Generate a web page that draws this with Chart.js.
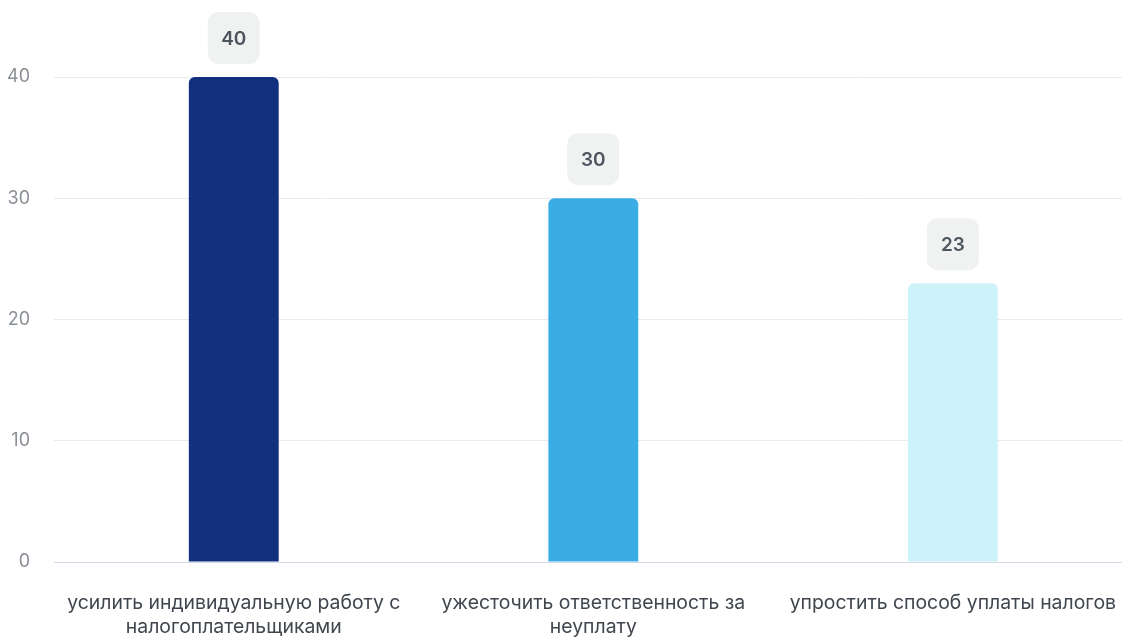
<!DOCTYPE html>
<html>
<head>
<meta charset="utf-8">
<script src="https://cdn.jsdelivr.net/npm/chart.js@4.4.0/dist/chart.umd.min.js"></script>
<style>
html,body{margin:0;padding:0;background:#fff;overflow:hidden;}
#wrap{width:1122px;height:637px;overflow:hidden;position:relative;}
#box{width:1145px;height:668px;position:absolute;left:0;top:0;}
</style>
</head>
<body>
<div id="wrap"><div id="box"><canvas id="c"></canvas></div></div>
<script>
const categories = [
  ["усилить индивидуальную работу с", "налогоплательщиками"],
  ["ужесточить ответственность за", "неуплату"],
  ["упростить способ уплаты налогов"]
];
const values = [40, 30, 23];
const barColors = ["#12307e", "#3aade6", "#cef2fa"];
const yTicks = [0, 10, 20, 30, 40];

const badgePlugin = {
  id: 'badges',
  afterDatasetsDraw(chart) {
    const ctx = chart.ctx;
    const meta = chart.getDatasetMeta(0);
    meta.data.forEach((bar, i) => {
      const w = 52, h = 52, r = 11;
      const cx = bar.x;
      const bottom = bar.y - 13;
      const x = cx - w / 2, y = bottom - h;
      ctx.save();
      ctx.fillStyle = '#f0f1f1';
      ctx.beginPath();
      ctx.roundRect(x, y, w, h, r);
      ctx.fill();
      ctx.fillStyle = '#4d5560';
      ctx.font = '600 19px Inter, "Noto Sans", sans-serif';
      ctx.textAlign = 'center';
      ctx.textBaseline = 'middle';
      ctx.fillText(String(values[i]), cx, y + h / 2 + 1);
      ctx.restore();
    });
  }
};

new Chart(document.getElementById('c'), {
  type: 'bar',
  data: {
    labels: categories,
    datasets: [{
      data: values,
      backgroundColor: barColors,
      borderRadius: {topLeft: 6, topRight: 6, bottomLeft: 0, bottomRight: 0},
      borderSkipped: false,
      barPercentage: 0.25,
      categoryPercentage: 1.0
    }]
  },
  options: {
    responsive: true,
    maintainAspectRatio: false,
    animation: false,
    layout: { padding: { top: 77, right: 0, left: 0, bottom: 0 } },
    plugins: { legend: { display: false }, tooltip: { enabled: false } },
    scales: {
      x: {
        grid: { display: false, drawTicks: false },
        border: { display: true, color: '#d2dbe8', width: 1 },
        ticks: {
          color: '#40464e',
          padding: 29,
          maxRotation: 0,
          autoSkip: false,
          font: { family: 'Inter, "Noto Sans", sans-serif', size: 19.4, lineHeight: '24px' }
        }
      },
      y: {
        min: 0,
        max: 40,
        afterFit(scale) { scale.width = 54; },
        afterBuildTicks(scale) { scale.ticks = yTicks.map(v => ({ value: v })); },
        grid: {
          drawTicks: false,
          color: ctx => ctx.tick && ctx.tick.value === 0 ? '#d2dbe8' : '#e8eaed'
        },
        border: { display: false },
        ticks: {
          color: '#8a8f96',
          padding: 24,
          font: { family: 'Inter, "Noto Sans", sans-serif', size: 18 }
        }
      }
    }
  },
  plugins: [badgePlugin]
});
</script>
</body>
</html>
